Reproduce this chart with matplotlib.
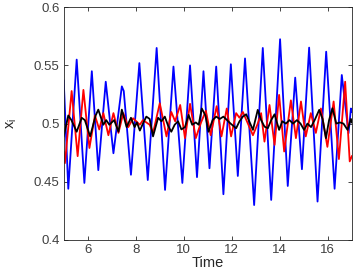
import matplotlib
matplotlib.use("Agg")
import matplotlib.pyplot as plt

# blue series (turning points)
blue_t = [5.00, 5.19, 5.54, 5.86, 6.17, 6.44, 6.75, 7.07, 7.42, 7.50, 7.80, 8.15,
          8.50, 8.87, 9.22, 9.57, 9.94, 10.26, 10.55, 10.82, 11.07, 11.35, 11.65,
          11.96, 12.25, 12.55, 12.93, 13.29, 13.64, 14.01, 14.33, 14.64, 14.92,
          15.22, 15.57, 15.93, 16.28, 16.58, 16.86, 16.96, 17.00]
blue_x = [0.537, 0.444, 0.555, 0.449, 0.545, 0.460, 0.536, 0.4745, 0.532, 0.528,
          0.456, 0.552, 0.4515, 0.565, 0.443, 0.549, 0.449, 0.550, 0.454, 0.545,
          0.4616, 0.549, 0.4393, 0.551, 0.455, 0.556, 0.430, 0.565, 0.4344, 0.5725,
          0.4464, 0.5395, 0.4608, 0.5653, 0.433, 0.5618, 0.444, 0.5418, 0.4917,
          0.513, 0.510]

# red series
red_t = [5.00, 5.05, 5.33, 5.58, 5.82, 6.07, 6.30, 6.48, 6.65, 6.86, 7.07, 7.28,
         7.48, 7.69, 7.89, 8.17, 8.30, 8.58, 8.72, 9.00, 9.28, 9.48, 9.64, 9.85,
         10.05, 10.26, 10.50, 10.70, 10.92, 11.12, 11.37, 11.57, 11.79, 11.97,
         12.18, 12.32, 12.46, 12.88, 13.08, 13.22, 13.36, 13.57, 13.78, 13.97,
         14.18, 14.46, 14.67, 14.88, 15.08, 15.29, 15.50, 15.71, 15.98, 16.24,
         16.46, 16.72, 16.91, 17.00]
red_x = [0.476, 0.466, 0.528, 0.472, 0.529, 0.479, 0.507, 0.495, 0.509, 0.490,
         0.509, 0.492, 0.509, 0.497, 0.5046, 0.499, 0.503, 0.499, 0.492, 0.5175,
         0.489, 0.510, 0.502, 0.516, 0.4875, 0.517, 0.4875, 0.500, 0.511, 0.490,
         0.515, 0.489, 0.513, 0.489, 0.509, 0.505, 0.510, 0.490, 0.500, 0.509,
         0.4845, 0.516, 0.4817, 0.5247, 0.476, 0.520, 0.4875, 0.519, 0.489, 0.509,
         0.492, 0.513, 0.480, 0.519, 0.4695, 0.536, 0.4675, 0.472]

# black series
black_t = [5.00, 5.19, 5.32, 5.54, 5.75, 5.88, 6.10, 6.33, 6.44, 6.65, 6.77, 6.90,
           7.10, 7.28, 7.42, 7.62, 7.80, 7.95, 8.05, 8.17, 8.30, 8.44, 8.58, 8.72,
           8.93, 9.07, 9.21, 9.35, 9.48, 9.62, 9.76, 9.90, 10.05, 10.20, 10.35,
           10.50, 10.62, 10.75, 10.90, 11.03, 11.20, 11.35, 11.50, 11.65, 11.80,
           11.95, 12.18, 12.32, 12.46, 12.60, 12.88, 13.08, 13.22, 13.36, 13.50,
           13.64, 13.78, 13.97, 14.10, 14.25, 14.40, 14.55, 14.71, 14.86, 15.01,
           15.15, 15.30, 15.45, 15.64, 15.78, 15.92, 16.05, 16.19, 16.35, 16.50,
           16.65, 16.82, 16.96, 17.00]
black_x = [0.489, 0.507, 0.503, 0.493, 0.505, 0.503, 0.489, 0.507, 0.512, 0.499,
           0.503, 0.499, 0.503, 0.493, 0.512, 0.497, 0.505, 0.497, 0.501, 0.494,
           0.500, 0.506, 0.504, 0.489, 0.505, 0.502, 0.506, 0.498, 0.493, 0.499,
           0.502, 0.495, 0.497, 0.5075, 0.499, 0.501, 0.499, 0.513, 0.507, 0.493,
           0.503, 0.506, 0.504, 0.506, 0.503, 0.500, 0.496, 0.502, 0.506, 0.508,
           0.4946, 0.5118, 0.503, 0.4974, 0.496, 0.503, 0.508, 0.4946, 0.502,
           0.500, 0.503, 0.500, 0.503, 0.500, 0.4946, 0.500, 0.497, 0.503, 0.5118,
           0.504, 0.4875, 0.503, 0.5132, 0.500, 0.501, 0.500, 0.4946, 0.504, 0.501]

xticks = [6, 8, 10, 12, 14, 16]
yticks = [0.4, 0.45, 0.5, 0.55, 0.6]
ytick_labels = ["0.4", "0.45", "0.5", "0.55", "0.6"]

plt.rcParams['font.family'] = ['Liberation Sans', 'DejaVu Sans']

fig = plt.figure(figsize=(3.54, 2.79), dpi=100)
ax = fig.add_axes([0.18, 0.14, 0.814, 0.834])

lw = 1.3
ax.plot(blue_t, blue_x, color='#0000ff', lw=lw, solid_joinstyle='round')
ax.plot(red_t, red_x, color='#ff0000', lw=lw, solid_joinstyle='round')
ax.plot(black_t, black_x, color='#000000', lw=lw, solid_joinstyle='round')

ax.set_xlim(5, 17)
ax.set_ylim(0.4, 0.6)
ax.set_xticks(xticks)
ax.set_yticks(yticks)
ax.set_yticklabels(ytick_labels)

axis_col = '#262626'
for s in ax.spines.values():
    s.set_color(axis_col)
    s.set_linewidth(0.6)
ax.tick_params(direction='in', top=True, right=True, length=3, width=0.6,
               colors=axis_col, labelsize=9.5, pad=3)
ax.tick_params(labelcolor='#404040')

ax.set_xlabel("Time", fontsize=10.5, color=axis_col, labelpad=0)
ax.set_ylabel(r"x$_\mathregular{i}$", fontsize=10.5, color=axis_col, labelpad=11)

fig.savefig("out.png", dpi=100)
